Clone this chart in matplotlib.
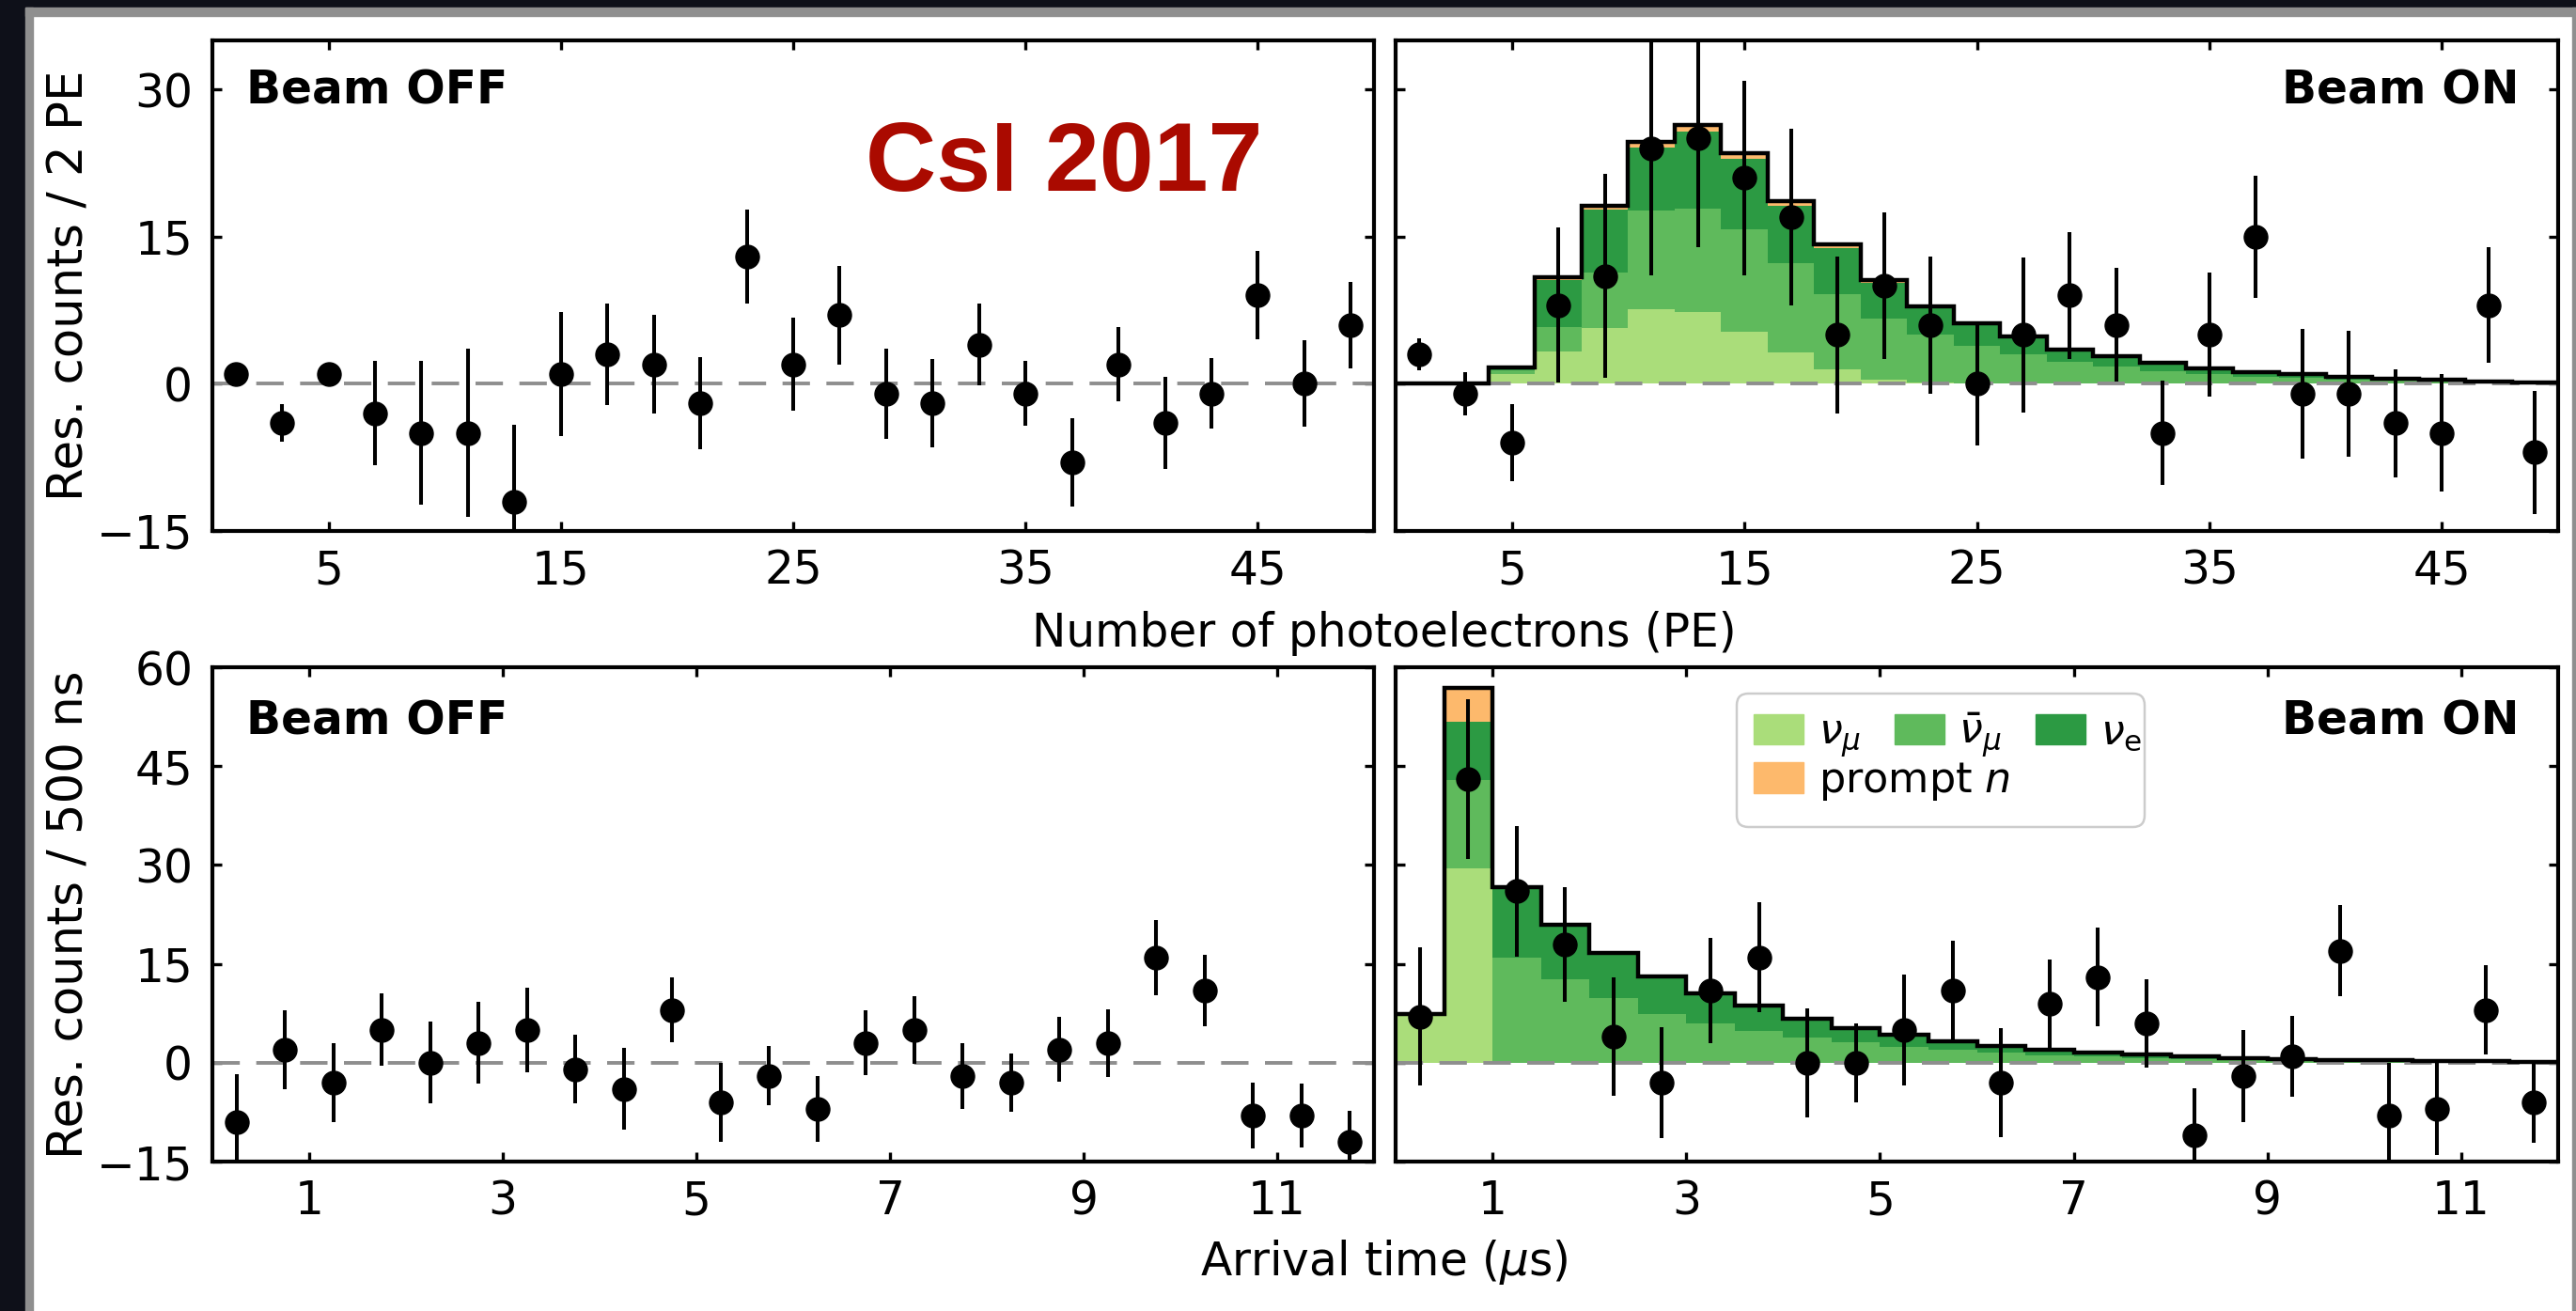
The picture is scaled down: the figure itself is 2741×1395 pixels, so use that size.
import numpy as np
import matplotlib
matplotlib.use('Agg')
import matplotlib.pyplot as plt
from matplotlib.patches import Patch, Rectangle, FancyBboxPatch

# residual counts, 2 PE bins from 0 to 50
pe_edges = np.arange(0, 51, 2)
off_pe = [1, -4, 1, -3, -5, -5, -12, 1, 3, 2, -2, 13, 2, 7, -1, -2, 4, -1, -8, 2, -4, -1, 9, 0, 6]
off_pe_err = [0.8, 1.9, 0.8, 5.3, 7.3, 8.6, 7.8, 6.3, 5.2, 5.0, 4.7, 4.8, 4.7, 5.0, 4.6, 4.5, 4.2, 3.3,
              4.5, 3.8, 4.7, 3.6, 4.5, 4.4, 4.4]
on_pe = [3, -1, -6, 8, 11, 24, 25, 21, 17, 5, 10, 6, 0, 5, 9, 6, -5, 5, 15, -1, -1, -4, -5, 8, -7]
on_pe_err = [1.6, 2.2, 3.9, 7.9, 10.4, 12.9, 11.1, 9.9, 9.0, 8.0, 7.5, 7.0, 6.3, 7.9, 6.5, 5.8, 5.3,
             6.3, 6.2, 6.6, 6.4, 5.5, 6.0, 5.9, 6.3]

# predicted CEvNS per flavour + prompt neutrons, PE
pe_numu = [0, 0, 1.0, 3.3, 5.7, 7.6, 7.3, 5.3, 3.2, 1.5, 0.4, 0.1, 0, 0, 0, 0, 0, 0, 0, 0, 0, 0, 0, 0, 0]
pe_numubar = [0, 0, 0.4, 2.5, 5.6, 10.1, 10.6, 10.4, 9.1, 7.6, 6.2, 4.9, 3.9, 3.0, 2.2, 1.75, 1.3,
              1.0, 0.75, 0.6, 0.44, 0.31, 0.24, 0.16, 0.11]
pe_nue = [0, 0, 0.3, 4.8, 6.5, 6.4, 7.8, 7.2, 5.8, 4.7, 3.7, 2.7, 2.2, 1.75, 1.3, 1.05, 0.8, 0.6,
          0.45, 0.35, 0.26, 0.19, 0.14, 0.1, 0.06]
pe_promptn = [0, 0, 0, 0.25, 0.3, 0.6, 0.7, 0.6, 0.5, 0.4, 0.3, 0.2, 0.1, 0.05, 0, 0, 0, 0, 0, 0,
              0, 0, 0, 0, 0]

# residual counts, 500 ns bins from 0 to 12 us
t_edges = np.arange(0, 12.01, 0.5)
off_t = [-9, 2, -3, 5, 0, 3, 5, -1, -4, 8, -6, -2, -7, 3, 5, -2, -3, 2, 3, 16, 11, -8, -8, -12]
off_t_err = [7.2, 6.0, 6.0, 5.5, 6.2, 6.2, 6.4, 5.2, 6.2, 4.9, 6.0, 4.5, 5.0, 4.9, 5.1, 5.0, 4.4,
             4.9, 5.1, 5.7, 5.4, 5.0, 4.8, 4.7]
on_t = [7, 43, 26, 18, 4, -3, 11, 16, 0, 0, 5, 11, -3, 9, 13, 6, -11, -2, 1, 17, -8, -7, 8, -6]
on_t_err = [10.5, 12.1, 9.9, 8.7, 9.0, 8.4, 8.0, 8.3, 8.3, 6.0, 8.4, 7.5, 8.3, 6.7, 7.5, 6.7, 7.1,
            7.0, 6.1, 6.9, 8.0, 7.0, 6.8, 6.2]

t_numu = [7.4, 29.5] + [0] * 22
t_numubar = [0, 13.4, 16.0, 12.6, 9.8, 7.4, 6.0, 4.8, 3.8, 3.1, 2.4, 1.9, 1.5, 1.15, 0.9, 0.72,
             0.55, 0.43, 0.35, 0.26, 0.2, 0.16, 0.13, 0.1]
t_nue = [0, 8.8, 10.7, 8.4, 6.9, 5.7, 4.5, 3.8, 2.9, 2.1, 1.9, 1.4, 1.1, 0.85, 0.7, 0.53, 0.4,
         0.32, 0.25, 0.19, 0.15, 0.12, 0.09, 0.07]
t_promptn = [0, 5.2] + [0] * 22

c_numu = '#aadd7a'
c_numubar = '#5fba5c'
c_nue = '#2c9a43'
c_promptn = '#fdb96c'
FS = 35

W, H = 2741, 1395
fig = plt.figure(figsize=(W / 100, H / 100), dpi=100)
fig.patch.set_facecolor('white')

# dark / grey border around the picture
def px_rect(x0, y0, x1, y1, color):
    fig.patches.append(Rectangle((x0 / W, 1 - y1 / H), (x1 - x0) / W, (y1 - y0) / H,
                                 transform=fig.transFigure, color=color, zorder=0))

px_rect(0, 0, W, 8, '#0e1019')
px_rect(0, 0, 27, H, '#0e1019')
px_rect(27, 8, W, 17, '#8f8f8f')
px_rect(27, 8, 35, H, '#8f8f8f')
px_rect(2737, 8, W, H, '#8f8f8f')

def add_ax(x0, y0, x1, y1):
    return fig.add_axes([x0 / W, 1 - y1 / H, (x1 - x0) / W, (y1 - y0) / H])

ax_tl = add_ax(226, 43, 1462, 565)
ax_tr = add_ax(1485, 43, 2722, 565)
ax_bl = add_ax(226, 710, 1462, 1236)
ax_br = add_ax(1485, 710, 2722, 1236)

def style(ax, xlim, ylim, xticks, yticks, labels=True):
    ax.set_xlim(xlim)
    ax.set_ylim(ylim)
    ax.set_xticks(xticks)
    ax.set_yticks(yticks)
    ax.tick_params(direction='in', top=True, right=True, length=7.5, width=2.4, labelsize=FS)
    ax.tick_params(axis='x', pad=13)
    ax.tick_params(axis='y', pad=15, labelleft=labels)
    for s in ax.spines.values():
        s.set_linewidth(3)
    ax.axhline(0, color='#8e8e8e', ls=(0, (7.5, 4.5)), lw=2.8, zorder=2)

def draw_stack(ax, edges, parts, colors):
    bottom = np.zeros(len(edges) - 1)
    for vals, c in zip(parts, colors):
        top = bottom + np.array(vals)
        ax.stairs(top, edges, baseline=bottom, fill=True, color=c, lw=0, zorder=1)
        bottom = top
    ax.stairs(bottom, edges, baseline=None, color='k', lw=3.2, zorder=3)

def points(ax, edges, y, err):
    x = 0.5 * (edges[:-1] + edges[1:])
    ax.errorbar(x, y, yerr=err, fmt='o', color='k', ms=18, elinewidth=2.9, capsize=0, zorder=4)

colors = [c_numu, c_numubar, c_nue, c_promptn]

style(ax_tl, (0, 50), (-15, 35), [5, 15, 25, 35, 45], [-15, 0, 15, 30])
style(ax_tr, (0, 50), (-15, 35), [5, 15, 25, 35, 45], [-15, 0, 15, 30], labels=False)
style(ax_bl, (0, 12), (-15, 60), [1, 3, 5, 7, 9, 11], [-15, 0, 15, 30, 45, 60])
style(ax_br, (0, 12), (-15, 60), [1, 3, 5, 7, 9, 11], [-15, 0, 15, 30, 45, 60], labels=False)

points(ax_tl, pe_edges, off_pe, off_pe_err)
draw_stack(ax_tr, pe_edges, [pe_numu, pe_numubar, pe_nue, pe_promptn], colors)
points(ax_tr, pe_edges, on_pe, on_pe_err)
points(ax_bl, t_edges, off_t, off_t_err)
draw_stack(ax_br, t_edges, [t_numu, t_numubar, t_nue, t_promptn], colors)
points(ax_br, t_edges, on_t, on_t_err)

for ax, dy in [(ax_tl, -68), (ax_bl, -72)]:
    ax.annotate('Beam OFF', xy=(0, 1), xycoords='axes fraction', xytext=(36, dy),
                textcoords='offset pixels', ha='left', va='baseline', fontsize=FS, fontweight='bold')
for ax, dy in [(ax_tr, -68), (ax_br, -72)]:
    ax.annotate('Beam ON', xy=(1, 1), xycoords='axes fraction', xytext=(-42, dy),
                textcoords='offset pixels', ha='right', va='baseline', fontsize=FS, fontweight='bold')

# legend: three flavours on the first row, prompt neutrons below
leg_kw = dict(loc='upper left', frameon=False, fontsize=32, borderaxespad=0, borderpad=0.4,
              handlelength=1.2, handleheight=0.75, handletextpad=0.35, columnspacing=0.8)
h_flav = [Patch(color=c_numu, label=r'$\nu_\mu$'),
          Patch(color=c_numubar, label=r'$\bar{\nu}_\mu$'),
          Patch(color=c_nue, label=r'$\nu_\mathrm{e}$')]
h_n = [Patch(color=c_promptn, label=r'prompt $n$')]
bx0, btop = (1848 - 1485) / 1237, (1236 - 738) / 526
frame = FancyBboxPatch((bx0, (1236 - 880) / 526), 434 / 1237, 142 / 526,
                       boxstyle='round,pad=0,rounding_size=0.01', mutation_aspect=1237 / 526,
                       transform=ax_br.transAxes, facecolor='white', edgecolor='#cccccc',
                       lw=1.8, zorder=4.8)
ax_br.add_patch(frame)
leg1 = ax_br.legend(handles=h_flav, ncol=3, bbox_to_anchor=(bx0, btop), **leg_kw)
ax_br.add_artist(leg1)
leg2 = ax_br.legend(handles=h_n, bbox_to_anchor=(bx0, btop - 53 / 526), **leg_kw)

fig.text(1473 / W, 1 - 688 / H, 'Number of photoelectrons (PE)', ha='center', va='baseline', fontsize=FS)
fig.text(1473 / W, 1 - 1357 / H, r'Arrival time ($\mu$s)', ha='center', va='baseline', fontsize=FS)
fig.text(75 / W, 1 - 304 / H, 'Res. counts / 2 PE', rotation=90, ha='center', va='center', fontsize=37)
fig.text(75 / W, 1 - 973 / H, 'Res. counts / 500 ns', rotation=90, ha='center', va='center', fontsize=37)

fig.text(921 / W, 1 - 203 / H, 'CsI 2017', ha='left', va='baseline', fontsize=75,
         fontweight='bold', family='Liberation Sans', color='#aa0a00')

fig.savefig('out.png', dpi=100)
